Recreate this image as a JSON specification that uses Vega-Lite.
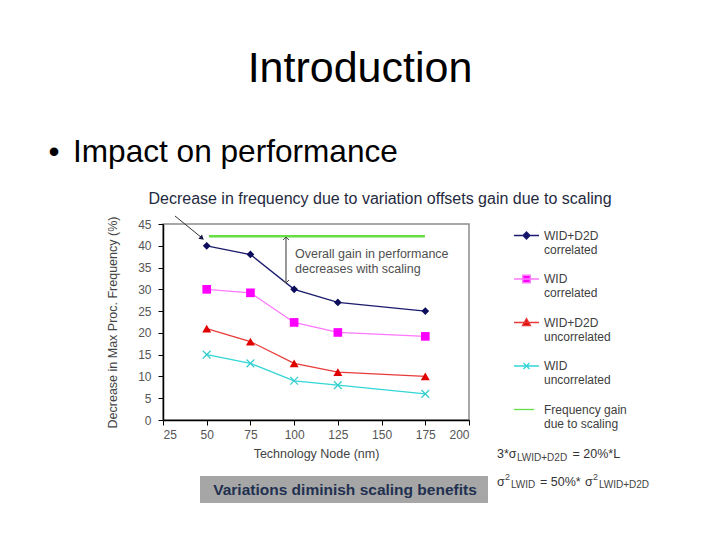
{
  "$schema": "https://vega.github.io/schema/vega-lite/v6.json",
  "width": 306,
  "height": 196,
  "autosize": {"type": "none"},
  "padding": {"left": 163, "top": 224, "right": 251, "bottom": 120},
  "background": "white",
  "config": {
    "font": "Liberation Sans",
    "view": {"stroke": "#8c8c8c", "strokeWidth": 1.5},
    "axis": {
      "labelOverlap": false, "grid": false, "domainColor": "#000000", "domainWidth": 1.5,
      "tickColor": "#000000", "tickSize": 5, "labelFontSize": 12, "labelColor": "#555555",
      "titleFontSize": 12.5, "titleColor": "#444444", "titleFontWeight": "normal"
    },
    "axisX": {"tickCount": 8, "labelPadding": 4, "titlePadding": 7},
    "axisY": {"tickCount": 10, "labelPadding": 7, "titlePadding": 18}
  },
  "datasets": {
    "series": [
      {"series": "WID+D2D|correlated", "node": 50, "freq": 40},
      {"series": "WID+D2D|correlated", "node": 75, "freq": 38},
      {"series": "WID+D2D|correlated", "node": 100, "freq": 30},
      {"series": "WID+D2D|correlated", "node": 125, "freq": 27},
      {"series": "WID+D2D|correlated", "node": 175, "freq": 25},
      {"series": "WID|correlated", "node": 50, "freq": 30},
      {"series": "WID|correlated", "node": 75, "freq": 29.2},
      {"series": "WID|correlated", "node": 100, "freq": 22.4},
      {"series": "WID|correlated", "node": 125, "freq": 20.1},
      {"series": "WID|correlated", "node": 175, "freq": 19.2},
      {"series": "WID+D2D|uncorrelated", "node": 50, "freq": 21},
      {"series": "WID+D2D|uncorrelated", "node": 75, "freq": 18},
      {"series": "WID+D2D|uncorrelated", "node": 100, "freq": 13},
      {"series": "WID+D2D|uncorrelated", "node": 125, "freq": 11},
      {"series": "WID+D2D|uncorrelated", "node": 175, "freq": 10},
      {"series": "WID|uncorrelated", "node": 50, "freq": 15},
      {"series": "WID|uncorrelated", "node": 75, "freq": 13},
      {"series": "WID|uncorrelated", "node": 100, "freq": 9},
      {"series": "WID|uncorrelated", "node": 125, "freq": 8},
      {"series": "WID|uncorrelated", "node": 175, "freq": 6},
      {"series": "Frequency gain|due to scaling", "node": 51.3, "freq": 42.2},
      {"series": "Frequency gain|due to scaling", "node": 174.8, "freq": 42.2}
    ]
  },
  "layer": [
    {
      "data": {"name": "series"},
      "transform": [{"filter": "datum.series != 'Frequency gain|due to scaling'"}],
      "mark": {"type": "line", "strokeWidth": 1.3},
      "encoding": {
        "x": {
          "field": "node", "type": "quantitative",
          "scale": {"domain": [25, 200], "nice": false},
          "title": "Technology Node (nm)",
          "axis": {"values": [25, 50, 75, 100, 125, 150, 175, 200], "tickCount": 8, "labelOverlap": false}
        },
        "y": {
          "field": "freq", "type": "quantitative",
          "scale": {"domain": [0, 45], "nice": false},
          "title": "Decrease in Max Proc. Frequency (%)",
          "axis": {"values": [0, 5, 10, 15, 20, 25, 30, 35, 40, 45], "tickCount": 10, "labelOverlap": false}
        },
        "color": {
          "field": "series", "type": "nominal",
          "scale": {
            "domain": ["WID+D2D|correlated", "WID|correlated", "WID+D2D|uncorrelated", "WID|uncorrelated"],
            "range": ["#1a1a6e", "#ff77ff", "#e83a3a", "#33d6d6"]
          },
          "legend": null
        }
      }
    },
    {
      "data": {"values": [{"x1": 46.16, "x2": 210.86, "y1": -12.86, "y2": -19.06}]},
      "mark": {"type": "rect", "color": "#a6a6a6"},
      "encoding": {
        "x": {"field": "x1", "type": "quantitative", "scale": {"domain": [25, 200], "nice": false}},
        "x2": {"field": "x2"},
        "y": {"field": "y1", "type": "quantitative", "scale": {"domain": [0, 45], "nice": false}},
        "y2": {"field": "y2"}
      }
    },
    {
      "data": {"name": "series"},
      "transform": [{"filter": "datum.series == 'Frequency gain|due to scaling'"}],
      "mark": {"type": "line", "strokeWidth": 2.5, "color": "#66dd44"},
      "encoding": {
        "x": {"field": "node", "type": "quantitative", "scale": {"domain": [25, 200], "nice": false}},
        "y": {"field": "freq", "type": "quantitative", "scale": {"domain": [0, 45], "nice": false}}
      }
    },
    {
      "data": {"name": "series"},
      "transform": [{"filter": "datum.series == 'WID+D2D|correlated'"}],
      "mark": {"type": "point", "shape": "diamond", "filled": true, "color": "#0d0d5e", "size": 60, "opacity": 1},
      "encoding": {
        "x": {"field": "node", "type": "quantitative", "scale": {"domain": [25, 200], "nice": false}},
        "y": {"field": "freq", "type": "quantitative", "scale": {"domain": [0, 45], "nice": false}}
      }
    },
    {
      "data": {"name": "series"},
      "transform": [{"filter": "datum.series == 'WID|correlated'"}],
      "mark": {"type": "point", "shape": "square", "filled": true, "color": "#ff00ff", "size": 75, "opacity": 1},
      "encoding": {
        "x": {"field": "node", "type": "quantitative", "scale": {"domain": [25, 200], "nice": false}},
        "y": {"field": "freq", "type": "quantitative", "scale": {"domain": [0, 45], "nice": false}}
      }
    },
    {
      "data": {"name": "series"},
      "transform": [{"filter": "datum.series == 'WID+D2D|uncorrelated'"}],
      "mark": {"type": "point", "shape": "triangle-up", "filled": true, "color": "#e00000", "size": 80, "opacity": 1},
      "encoding": {
        "x": {"field": "node", "type": "quantitative", "scale": {"domain": [25, 200], "nice": false}},
        "y": {"field": "freq", "type": "quantitative", "scale": {"domain": [0, 45], "nice": false}}
      }
    },
    {
      "data": {"name": "series"},
      "transform": [{"filter": "datum.series == 'WID|uncorrelated'"}],
      "mark": {"type": "point", "shape": "M-1,-1L1,1M-1,1L1,-1", "filled": false, "color": "#33cccc", "strokeWidth": 1.2, "size": 60, "opacity": 1},
      "encoding": {
        "x": {"field": "node", "type": "quantitative", "scale": {"domain": [25, 200], "nice": false}},
        "y": {"field": "freq", "type": "quantitative", "scale": {"domain": [0, 45], "nice": false}}
      }
    },
    {
      "data": {"name": "series"},
      "mark": {"type": "point", "filled": true, "opacity": 0},
      "encoding": {
        "x": {"field": "node", "type": "quantitative", "scale": {"domain": [25, 200], "nice": false}},
        "y": {"field": "freq", "type": "quantitative", "scale": {"domain": [0, 45], "nice": false}},
        "fill": {
          "field": "series", "type": "nominal",
          "scale": {
            "domain": ["WID+D2D|correlated", "WID|correlated", "WID+D2D|uncorrelated", "WID|uncorrelated", "Frequency gain|due to scaling"],
            "range": ["#0d0d5e", "#ff00ff", "#e00000", "#33cccc", "#66dd44"]
          },
          "legend": {"title": null, "orient": "none", "direction": "vertical", "legendX": 350, "legendY": -2, "padding": 0, "symbolSize": 625, "symbolStrokeWidth": 1.3, "symbolOpacity": 1, "labelExpr": "split(datum.label, '|')", "labelFontSize": 12, "labelColor": "#404040", "labelOffset": 4, "rowPadding": 9.5, "labelLimit": 200}
        },
        "stroke": {
          "field": "series", "type": "nominal",
          "scale": {
            "domain": ["WID+D2D|correlated", "WID|correlated", "WID+D2D|uncorrelated", "WID|uncorrelated", "Frequency gain|due to scaling"],
            "range": ["#1a1a6e", "#ff77ff", "#e83a3a", "#33d6d6", "#66dd44"]
          },
          "legend": {"title": null, "orient": "none", "direction": "vertical", "legendX": 350, "legendY": -2, "padding": 0, "symbolSize": 625, "symbolStrokeWidth": 1.3, "symbolOpacity": 1, "labelExpr": "split(datum.label, '|')", "labelFontSize": 12, "labelColor": "#404040", "labelOffset": 4, "rowPadding": 9.5, "labelLimit": 200}
        },
        "shape": {
          "field": "series", "type": "nominal",
          "scale": {
            "domain": ["WID+D2D|correlated", "WID|correlated", "WID+D2D|uncorrelated", "WID|uncorrelated", "Frequency gain|due to scaling"],
            "range": [
              "M-1,0L1,0M0,-0.28L0.28,0L0,0.28L-0.28,0Z",
              "M-1,0L1,0M-0.3,-0.3L0.3,-0.3L0.3,0.3L-0.3,0.3Z",
              "M-1,0L1,0M0,-0.32L0.32,0.24L-0.32,0.24Z",
              "M-1,0L1,0M-0.24,-0.24L0.24,0.24M-0.24,0.24L0.24,-0.24",
              "M-1,0L0.6,0"
            ]
          },
          "legend": {"title": null, "orient": "none", "direction": "vertical", "legendX": 350, "legendY": -2, "padding": 0, "symbolSize": 625, "symbolStrokeWidth": 1.3, "symbolOpacity": 1, "labelExpr": "split(datum.label, '|')", "labelFontSize": 12, "labelColor": "#404040", "labelOffset": 4, "rowPadding": 9.5, "labelLimit": 200}
        }
      }
    },
    {
      "data": {"values": [
        {"x": 31.86, "y": 46.84, "x2": 47.3, "y2": 41.8},
        {"x": 95.34, "y": 42.0, "x2": 95.34, "y2": 31.45}
      ]},
      "mark": {"type": "rule", "color": "#333333", "strokeWidth": 1},
      "encoding": {
        "x": {"field": "x", "type": "quantitative", "scale": {"domain": [25, 200], "nice": false}},
        "y": {"field": "y", "type": "quantitative", "scale": {"domain": [0, 45], "nice": false}},
        "x2": {"field": "x2"},
        "y2": {"field": "y2"}
      }
    },
    {
      "data": {"values": [{"x": 47.3, "y": 41.75}]},
      "mark": {"type": "point", "shape": "triangle-up", "filled": true, "color": "#1a1a4a", "size": 30, "angle": 131, "opacity": 1},
      "encoding": {
        "x": {"field": "x", "type": "quantitative", "scale": {"domain": [25, 200], "nice": false}},
        "y": {"field": "y", "type": "quantitative", "scale": {"domain": [0, 45], "nice": false}}
      }
    },
    {
      "data": {"values": [{"x": 95.34, "y": 42.0}]},
      "mark": {"type": "point", "shape": "M-1,1L0,0L1,1", "filled": false, "color": "#444444", "strokeWidth": 1, "size": 36, "opacity": 1},
      "encoding": {
        "x": {"field": "x", "type": "quantitative", "scale": {"domain": [25, 200], "nice": false}},
        "y": {"field": "y", "type": "quantitative", "scale": {"domain": [0, 45], "nice": false}}
      }
    },
    {
      "data": {"values": [{"x": 95.34, "y": 31.45}]},
      "mark": {"type": "point", "shape": "M-1,-1L0,0L1,-1", "filled": false, "color": "#444444", "strokeWidth": 1, "size": 36, "opacity": 1},
      "encoding": {
        "x": {"field": "x", "type": "quantitative", "scale": {"domain": [25, 200], "nice": false}},
        "y": {"field": "y", "type": "quantitative", "scale": {"domain": [0, 45], "nice": false}}
      }
    },
    {
      "data": {"values": [{"x": 137.66, "y": 77.6, "text": "Introduction"}]},
      "mark": {"type": "text", "fontSize": 43, "color": "#000000", "align": "center", "baseline": "alphabetic"},
      "encoding": {
        "x": {"field": "x", "type": "quantitative", "scale": {"domain": [25, 200], "nice": false}},
        "y": {"field": "y", "type": "quantitative", "scale": {"domain": [0, 45], "nice": false}},
        "text": {"field": "text"}
      }
    },
    {
      "data": {"values": [{"x": -40.48, "y": 59.23, "text": "•"}, {"x": -26.47, "y": 59.23, "text": "Impact on performance"}]},
      "mark": {"type": "text", "fontSize": 31.6, "color": "#000000", "align": "left", "baseline": "alphabetic"},
      "encoding": {
        "x": {"field": "x", "type": "quantitative", "scale": {"domain": [25, 200], "nice": false}},
        "y": {"field": "y", "type": "quantitative", "scale": {"domain": [0, 45], "nice": false}},
        "text": {"field": "text"}
      }
    },
    {
      "data": {"values": [{"x": 149.1, "y": 49.59, "text": "Decrease in frequency due to variation offsets gain due to scaling"}]},
      "mark": {"type": "text", "fontSize": 16, "color": "#1f2a40", "align": "center", "baseline": "alphabetic"},
      "encoding": {
        "x": {"field": "x", "type": "quantitative", "scale": {"domain": [25, 200], "nice": false}},
        "y": {"field": "y", "type": "quantitative", "scale": {"domain": [0, 45], "nice": false}},
        "text": {"field": "text"}
      }
    },
    {
      "data": {"values": [{"x": 100.49, "y": 37.19, "text": "Overall gain in performance"}, {"x": 100.49, "y": 33.86, "text": "decreases with scaling"}]},
      "mark": {"type": "text", "fontSize": 12.5, "color": "#505050", "align": "left", "baseline": "alphabetic"},
      "encoding": {
        "x": {"field": "x", "type": "quantitative", "scale": {"domain": [25, 200], "nice": false}},
        "y": {"field": "y", "type": "quantitative", "scale": {"domain": [0, 45], "nice": false}},
        "text": {"field": "text"}
      }
    },
    {
      "data": {"values": [
        {"x": 216.0, "y": -8.73, "text": "3*σ"},
        {"x": 259.2, "y": -8.73, "text": "= 20%*L"},
        {"x": 216.0, "y": -15.15, "text": "σ"},
        {"x": 240.6, "y": -15.15, "text": "= 50%*"},
        {"x": 266.3, "y": -15.15, "text": "σ"}
      ]},
      "mark": {"type": "text", "fontSize": 12.5, "color": "#333333", "align": "left", "baseline": "alphabetic"},
      "encoding": {
        "x": {"field": "x", "type": "quantitative", "scale": {"domain": [25, 200], "nice": false}},
        "y": {"field": "y", "type": "quantitative", "scale": {"domain": [0, 45], "nice": false}},
        "text": {"field": "text"}
      }
    },
    {
      "data": {"values": [
        {"x": 227.45, "y": -9.41, "text": "LWID+D2D"},
        {"x": 224.0, "y": -15.61, "text": "LWID"},
        {"x": 274.3, "y": -15.61, "text": "LWID+D2D"}
      ]},
      "mark": {"type": "text", "fontSize": 10, "color": "#444444", "align": "left", "baseline": "alphabetic"},
      "encoding": {
        "x": {"field": "x", "type": "quantitative", "scale": {"domain": [25, 200], "nice": false}},
        "y": {"field": "y", "type": "quantitative", "scale": {"domain": [0, 45], "nice": false}},
        "text": {"field": "text"}
      }
    },
    {
      "data": {"values": [
        {"x": 220.6, "y": -13.77, "text": "2"},
        {"x": 270.9, "y": -13.77, "text": "2"}
      ]},
      "mark": {"type": "text", "fontSize": 9, "color": "#444444", "align": "left", "baseline": "alphabetic"},
      "encoding": {
        "x": {"field": "x", "type": "quantitative", "scale": {"domain": [25, 200], "nice": false}},
        "y": {"field": "y", "type": "quantitative", "scale": {"domain": [0, 45], "nice": false}},
        "text": {"field": "text"}
      }
    },
    {
      "data": {"values": [{"x": 129.08, "y": -17.22, "text": "Variations diminish scaling benefits"}]},
      "mark": {"type": "text", "fontSize": 15.5, "fontWeight": "bold", "color": "#1f3050", "align": "center", "baseline": "alphabetic"},
      "encoding": {
        "x": {"field": "x", "type": "quantitative", "scale": {"domain": [25, 200], "nice": false}},
        "y": {"field": "y", "type": "quantitative", "scale": {"domain": [0, 45], "nice": false}},
        "text": {"field": "text"}
      }
    }
  ]
}
